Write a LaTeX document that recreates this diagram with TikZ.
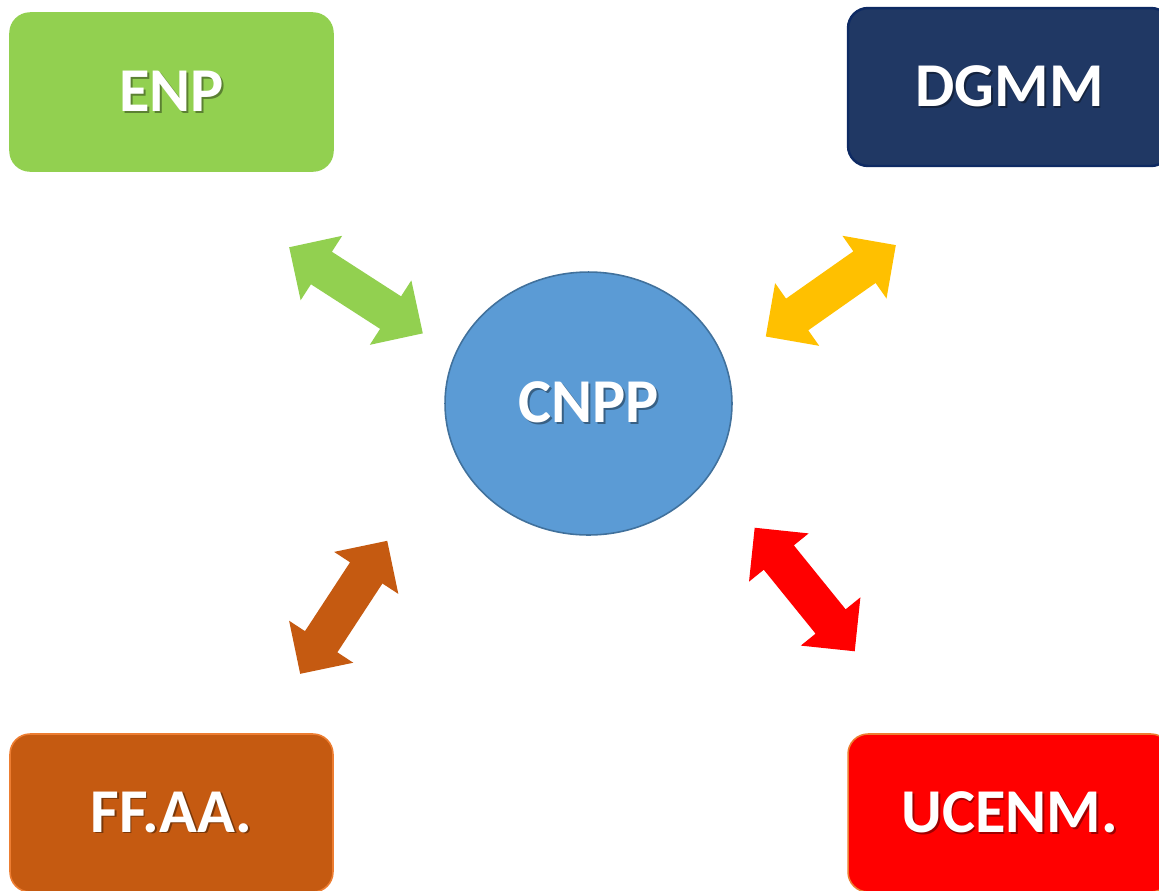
\documentclass[tikz,border=0pt]{standalone}
\usepackage{fontspec}
\setmainfont{Carlito}
\usepackage{xcolor}
\usetikzlibrary{shapes.geometric, shapes.arrows, positioning}

\definecolor{enpgreen}{HTML}{92D050}
\definecolor{dgmmnavy}{HTML}{203864}
\definecolor{dgmmedge}{HTML}{0E2A63}
\definecolor{ffaabrown}{HTML}{C55A11}
\definecolor{ucenmred}{HTML}{FF0000}
\definecolor{warmedge}{HTML}{ED7D31}
\definecolor{hubblue}{HTML}{5B9BD5}
\definecolor{hubedge}{HTML}{41719C}
\definecolor{linkyellow}{HTML}{FFC000}

\newcommand{\shadowtext}[2]{\makebox[0pt][l]{\hspace{1.1pt}\raisebox{-1.1pt}{\textcolor{#1!62!black}{#2}}}#2}

\begin{document}
\begin{tikzpicture}[x=0.02cm, y=-0.02cm,
    box/.style={rectangle, rounded corners=0.4cm, minimum width=6.46cm, minimum height=3.16cm,
        text=white, font=\fontsize{35.5}{42}\selectfont\bfseries, line width=0.9pt},
    hub/.style={ellipse, minimum width=5.74cm, minimum height=5.26cm, fill=hubblue, draw=hubedge,
        line width=0.9pt, text=white, font=\fontsize{35.5}{42}\selectfont\bfseries},
    link/.style={double arrow, double arrow head extend=0.38cm, minimum height=3.18cm,
        inner xsep=0pt, inner ysep=0.38cm, draw=none}]
    \useasboundingbox (0,0) rectangle (1159,890);
    \clip (0,0) rectangle (1159,890);

    % organisations round the centre
    \node[box, fill=enpgreen, draw=enpgreen] (enp) at (171.5, 92) {\shadowtext{enpgreen}{ENP}};
    \node[box, fill=dgmmnavy, draw=dgmmedge, line width=1.4pt] (dgmm) at (1009.5, 87) {\shadowtext{dgmmnavy}{DGMM}};
    \node[box, fill=ffaabrown, draw=warmedge] (ffaa) at (171.5, 813) {\shadowtext{ffaabrown}{FF.AA.}};
    \node[box, fill=ucenmred, draw=warmedge] (ucenm) at (1009.5, 813) {\shadowtext{ucenmred}{UCENM.}};

    \node[hub] (cnpp) at (588.5, 403.5) {\shadowtext{hubblue}{CNPP}};

    % two-way links
    \node[link, fill=enpgreen, rotate=-32.8] (enplink) at (356, 290.3) {};
    \node[link, fill=linkyellow, rotate=35.1] (dgmmlink) at (830.8, 290.8) {};
    \node[link, fill=ffaabrown, rotate=56.8] (ffaalink) at (343.7, 607.3) {};
    \node[link, fill=ucenmred, rotate=-51] (ucenmlink) at (804.7, 589.5) {};
\end{tikzpicture}
\end{document}
